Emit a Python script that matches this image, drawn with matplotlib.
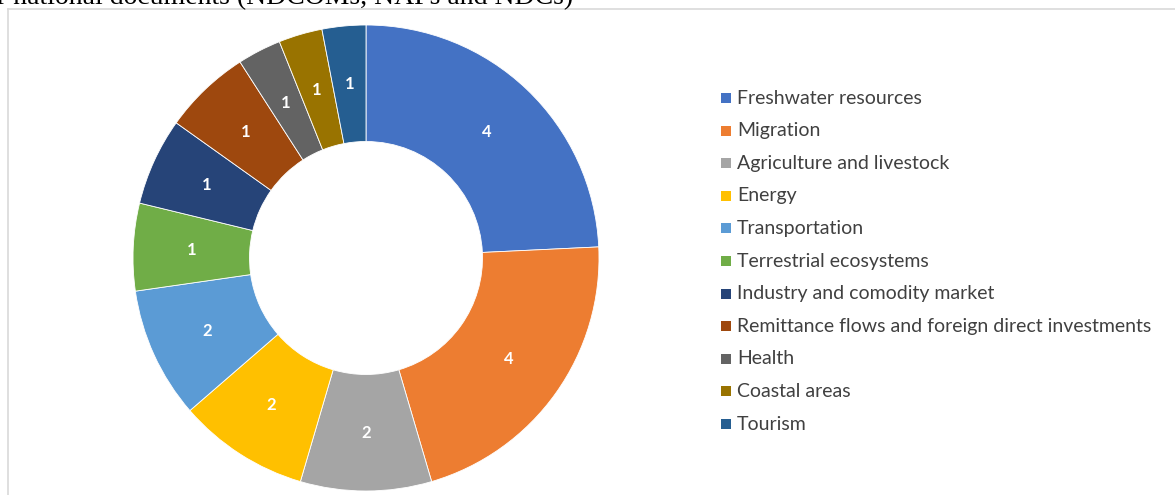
import matplotlib
matplotlib.use("Agg")
import matplotlib.pyplot as plt
import numpy as np
from matplotlib.patches import Rectangle
from matplotlib.lines import Line2D

categories = ['Freshwater resources', 'Migration', 'Agriculture and livestock',
              'Energy', 'Transportation', 'Terrestrial ecosystems',
              'Industry and comodity market',
              'Remittance flows and foreign direct investments',
              'Health', 'Coastal areas', 'Tourism']
# slice sizes as drawn, and the numbers printed on the slices
sizes = [8, 7, 3, 3, 3, 2, 2, 2, 1, 1, 1]
shown = [4, 4, 2, 2, 2, 1, 1, 1, 1, 1, 1]
colors = ['#4472C4', '#ED7D31', '#A5A5A5', '#FFC000', '#5B9BD5', '#70AD47',
          '#264478', '#9E480E', '#636363', '#997300', '#255E91']

W, H = 1175, 495
fig = plt.figure(figsize=(W / 100, H / 100), dpi=100)

# frame of the chart area (cut by the image edge on right and bottom)
fig.add_artist(Line2D([8 / W, 8 / W], [0, 1 - 9 / H], color='#D9D9D9', lw=1.2))
fig.add_artist(Line2D([8 / W, 1], [1 - 9 / H, 1 - 9 / H], color='#D9D9D9', lw=1.2))

# caption text cut off at the top
fig.text(-3 / W, 1 - 4.5 / H, 'r national documents (NDCOMs, NAPs and NDCs)',
         family='Liberation Serif', fontsize=20, va='baseline', ha='left')

ax = fig.add_axes([133 / W, 4 / H, 466 / W, 466 / H])
wedges, _ = ax.pie(sizes, colors=colors, startangle=90, counterclock=False,
                   radius=1.0,
                   wedgeprops=dict(width=0.5, edgecolor='white', linewidth=0.6))
ax.set_xlim(-1, 1)
ax.set_ylim(-1, 1)
ax.set_aspect('equal')
ax.axis('off')

for w, lab in zip(wedges, shown):
    ang = np.deg2rad((w.theta1 + w.theta2) / 2)
    ax.text(0.75 * np.cos(ang), 0.75 * np.sin(ang), str(lab), color='white',
            fontsize=12, fontweight='bold', family='Lato',
            ha='center', va='center')

# legend
x0, y0, step = 721, 98, 32.6
for i, (name, c) in enumerate(zip(categories, colors)):
    y = y0 + i * step
    fig.add_artist(Rectangle((x0 / W, 1 - (y + 5) / H), 10 / W, 10 / H,
                             facecolor=c, edgecolor='none'))
    fig.text((x0 + 16) / W, 1 - y / H, name, family='Lato', fontsize=14,
             color='#404040', va='center', ha='left')

fig.savefig('out.png', dpi=100)
